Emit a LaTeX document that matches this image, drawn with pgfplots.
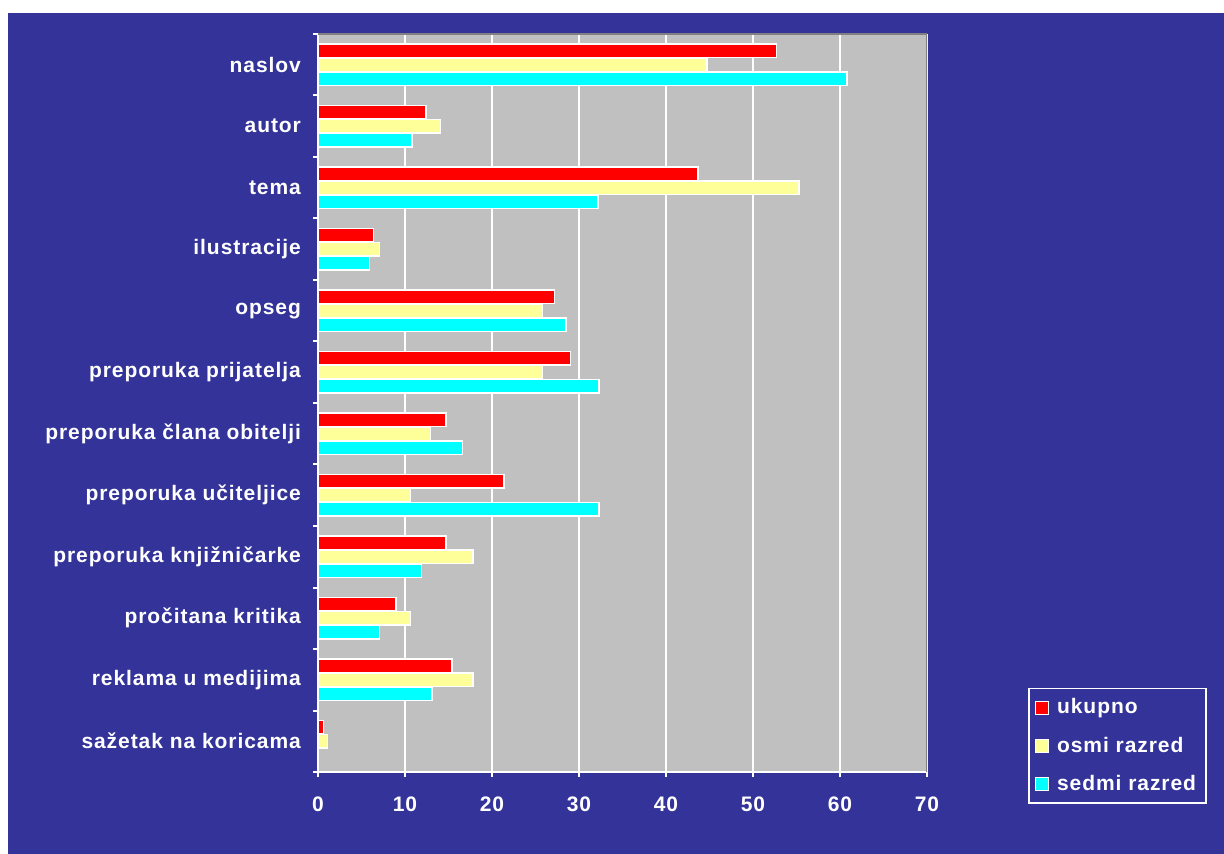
\documentclass[border=0pt]{standalone}
\usepackage{pgfplots}
\pgfplotsset{compat=1.18}
\usepackage{fontspec}
\setmainfont{Liberation Sans}[LetterSpace=4.5]
\definecolor{bg}{HTML}{333399}
\definecolor{plotgray}{HTML}{C0C0C0}
\definecolor{bordergray}{HTML}{808080}
\definecolor{barred}{HTML}{FF0000}
\definecolor{baryellow}{HTML}{FFFF99}
\definecolor{barcyan}{HTML}{00FFFF}
\begin{document}
\begin{tikzpicture}
\fill[white] (0,0) rectangle (612pt,427pt);
\fill[bg] (4pt,0) rectangle (612pt,420.5pt);
\begin{axis}[
  at={(159pt,41pt)}, anchor=south west,
  scale only axis, width=304.5pt, height=369pt,
  xbar, bar width=6.6pt, xbar=0.4pt,
  xmin=0, xmax=70, xtick={0,10,...,70},
  ymin=-0.5, ymax=11.5, y dir=reverse,
  ytick={0,...,11},
  yticklabels={naslov, autor, tema, ilustracije, opseg, preporuka prijatelja, preporuka člana obitelji, preporuka učiteljice, preporuka knjižničarke, pročitana kritika, reklama u medijima, sažetak na koricama},
  minor ytick={-0.5,0.5,...,11.5},
  xmajorgrids, major grid style={white, line width=1pt},
  axis background/.style={fill=plotgray},
  axis lines*=left,
  axis line style={white, line width=1pt},
  tick align=outside,
  major tick length=2.5pt, minor tick length=2.5pt,
  major y tick style={draw=none},
  minor y tick style={white, line width=1pt},
  major x tick style={white, line width=1pt},
  every tick label/.append style={font=\bfseries\fontsize{10.5}{12}\selectfont, text=white},
  yticklabel style={xshift=-2.5pt},
  xticklabel style={yshift=-6.5pt},
  /pgf/number format/assume math mode=true,
  legend style={at={(1.1658,-0.0434)}, anchor=south west, draw=white, line width=0.8pt,
    fill=bg, text=white, font=\bfseries\fontsize{10.5}{12}\selectfont,
    row sep=6pt, inner xsep=3pt, inner ysep=3pt},
  legend cell align=left,
  reverse legend,
  legend image code/.code={\draw[#1,draw=white,line width=0.6pt] (0pt,-3.25pt) rectangle (6.5pt,3.25pt); \path (8.5pt,0pt);},
]
\draw[bordergray, line width=1.2pt] (rel axis cs:0,1) -- (rel axis cs:1,1) -- (rel axis cs:1,0);
\addplot[fill=barcyan, draw=white, line width=0.7pt] coordinates {
(60.8,0) (10.8,1) (32.2,2) (5.9,3) (28.5,4) (32.3,5) (16.6,6) (32.3,7) (11.9,8) (7.1,9) (13.1,10)};
\addplot[fill=baryellow, draw=white, line width=0.7pt] coordinates {
(44.7,0) (14.1,1) (55.3,2) (7.1,3) (25.8,4) (25.8,5) (12.9,6) (10.6,7) (17.8,8) (10.6,9) (17.8,10) (1.1,11)};
\addplot[fill=barred, draw=white, line width=0.7pt] coordinates {
(52.7,0) (12.4,1) (43.7,2) (6.4,3) (27.2,4) (29.0,5) (14.7,6) (21.4,7) (14.7,8) (8.95,9) (15.4,10) (0.6,11)};
\legend{sedmi razred, osmi razred, ukupno}
\end{axis}
\end{tikzpicture}
\end{document}
